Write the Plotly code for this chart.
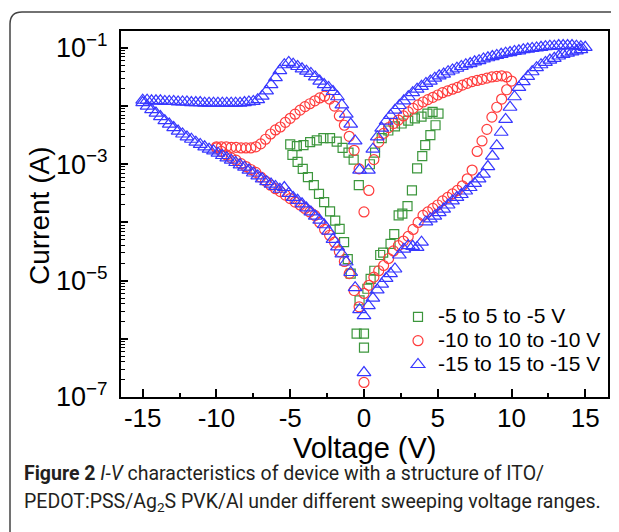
import plotly.graph_objects as go

# ---------------- data ----------------
# -15 to 15 to -15 V  (blue triangles), log10(I / A)
blue_v_fwd = [-15.0, -14.7, -14.4, -14.1, -13.8, -13.5, -13.2, -12.9, -12.6, -12.3,
              -12.0, -11.7, -11.4, -11.1, -10.8, -10.5, -10.2, -9.9, -9.6, -9.3,
              -9.0, -8.7, -8.4, -8.1, -7.8, -7.5, -7.2, -6.9, -6.6, -6.3,
              -6.0, -5.7, -5.4, -5.1, -4.8, -4.5, -4.2, -3.9, -3.6, -3.3,
              -3.0, -2.7, -2.4, -2.1, -1.8, -1.5, -1.2, -0.9, -0.6, -0.3,
              0.0,
              0.3, 0.6, 0.9, 1.2, 1.5, 1.8, 2.1, 2.4, 2.7, 3.0,
              3.3, 3.6, 3.9, 4.2, 4.5, 4.8, 5.1, 5.4, 5.7, 6.0,
              6.3, 6.6, 6.9, 7.2, 7.5, 7.8, 8.1, 8.4, 8.7, 9.0,
              9.3, 9.6, 9.9, 10.2, 10.5, 10.8, 11.1, 11.4, 11.7, 12.0,
              12.3, 12.6, 12.9, 13.2, 13.5, 13.8, 14.1, 14.4, 14.7, 15.0]
blue_logi_fwd = [-1.90, -1.90, -1.91, -1.91, -1.91, -1.92, -1.92, -1.92, -1.93, -1.93,
                 -1.93, -1.94, -1.94, -1.94, -1.95, -1.95, -1.95, -1.95, -1.95, -1.95,
                 -1.95, -1.95, -1.95, -1.94, -1.93, -1.92, -1.89, -1.83, -1.74, -1.63,
                 -1.51, -1.39, -1.29, -1.25, -1.28, -1.32, -1.36, -1.40, -1.44, -1.50,
                 -1.57, -1.63, -1.68, -1.75, -1.84, -1.98, -2.14, -2.31, -2.60, -3.10,
                 -6.58,
                 -3.10, -2.74, -2.53, -2.38, -2.26, -2.16, -2.07, -1.99, -1.91, -1.84,
                 -1.77, -1.71, -1.66, -1.61, -1.57, -1.52, -1.48, -1.45, -1.41, -1.38,
                 -1.35, -1.32, -1.29, -1.27, -1.24, -1.22, -1.19, -1.17, -1.15, -1.13,
                 -1.11, -1.09, -1.08, -1.06, -1.05, -1.03, -1.02, -1.01, -1.00, -0.99,
                 -0.98, -0.97, -0.97, -0.96, -0.96, -0.96, -0.96, -0.97, -0.98, -0.99]
blue_v_rev = [14.7, 14.4, 14.1, 13.8, 13.5, 13.2, 12.9, 12.6, 12.3, 12.0,
              11.7, 11.4, 11.1, 10.8, 10.5, 10.2, 9.9, 9.6, 9.3, 9.0,
              8.7, 8.4, 8.1, 7.8, 7.5, 7.2, 6.9, 6.6, 6.3, 6.0,
              5.7, 5.4, 5.1, 4.8, 4.5, 4.2, 3.9, 3.6, 3.3, 3.0,
              2.7, 2.4, 2.1, 1.8, 1.5, 1.2, 0.9, 0.6, 0.3, 0.0,
              -0.3, -0.6, -0.9, -1.2, -1.5, -1.8, -2.1, -2.4, -2.7, -3.0,
              -3.3, -3.6, -3.9, -4.2, -4.5, -4.8, -5.1, -5.4, -5.7, -6.0,
              -6.3, -6.6, -6.9, -7.2, -7.5, -7.8, -8.1, -8.4, -8.7, -9.0,
              -9.3, -9.6, -9.9, -10.2, -10.5, -10.8, -11.1, -11.4, -11.7, -12.0,
              -12.3, -12.6, -12.9, -13.2, -13.5, -13.8, -14.1, -14.4, -14.7, -15.0]
blue_logi_rev = [-1.03, -1.05, -1.07, -1.09, -1.11, -1.14, -1.18, -1.21, -1.25, -1.29,
                 -1.34, -1.41, -1.49, -1.58, -1.68, -1.84, -2.02, -2.23, -2.45, -2.68,
                 -2.86, -3.04, -3.17, -3.25, -3.33, -3.40, -3.46, -3.52, -3.57, -3.63,
                 -3.70, -3.77, -3.83, -3.89, -3.94, -3.99, -4.34, -4.43, -4.41, -4.40,
                 -4.46, -4.56, -4.80, -4.88, -4.96, -5.06, -5.16, -5.30, -5.43, -5.60,
                 -5.50, -5.12, -4.86, -4.68, -4.54, -4.42, -4.29, -4.15, -4.04, -3.96,
                 -3.89, -3.82, -3.75, -3.68, -3.62, -3.57, -3.50, -3.40, -3.43, -3.38,
                 -3.34, -3.30, -3.25, -3.20, -3.15, -3.10, -3.05, -3.01, -2.97, -2.93,
                 -2.89, -2.85, -2.81, -2.77, -2.74, -2.70, -2.66, -2.62, -2.57, -2.53,
                 -2.48, -2.43, -2.37, -2.31, -2.25, -2.18, -2.12, -2.06, -2.00, -1.94]

# -10 to 10 to -10 V  (red circles)
red_v_fwd = [-10.0, -9.67, -9.33, -9.0, -8.67, -8.33, -8.0, -7.67, -7.33, -7.0,
             -6.67, -6.33, -6.0, -5.67, -5.33, -5.0, -4.67, -4.33, -4.0, -3.67,
             -3.33, -3.0, -2.67, -2.33, -2.0, -1.67, -1.33, -1.0, -0.67, -0.33,
             0.0, 0.0,
             0.33, 0.67, 1.0, 1.33, 1.67, 2.0, 2.33, 2.67, 3.0, 3.33,
             3.67, 4.0, 4.33, 4.67, 5.0, 5.33, 5.67, 6.0, 6.33, 6.67,
             7.0, 7.33, 7.67, 8.0, 8.33, 8.67, 9.0, 9.33, 9.67, 10.0]
red_logi_fwd = [-2.70, -2.70, -2.70, -2.71, -2.71, -2.72, -2.72, -2.72, -2.70, -2.65,
                -2.57, -2.48, -2.41, -2.36, -2.28, -2.21, -2.14, -2.07, -2.01, -1.96,
                -1.91, -1.86, -1.83, -1.88, -2.00, -2.17, -2.33, -2.52, -2.76, -3.08,
                -3.82, -6.75,
                -3.45, -2.92, -2.62, -2.47, -2.37, -2.30, -2.24, -2.17, -2.10, -2.04,
                -1.98, -1.93, -1.89, -1.85, -1.81, -1.77, -1.74, -1.71, -1.68, -1.64,
                -1.61, -1.58, -1.56, -1.54, -1.52, -1.50, -1.49, -1.48, -1.50, -1.57]
red_v_rev = [9.67, 9.33, 9.0, 8.67, 8.33, 8.0, 7.67, 7.33, 7.0, 6.67,
             6.33, 6.0, 5.67, 5.33, 5.0, 4.67, 4.33, 4.0, 3.67, 3.33,
             3.0, 2.67, 2.33, 2.0, 1.67, 1.33, 1.0, 0.67, 0.33, 0.0,
             -0.33, -0.67, -1.0, -1.33, -1.67, -2.0, -2.33, -2.67, -3.0, -3.33,
             -3.67, -4.0, -4.33, -4.67, -5.0, -5.33, -5.67, -6.0, -6.33, -6.67,
             -7.0, -7.33, -7.67, -8.0, -8.33, -8.67, -9.0, -9.33, -9.67, -10.0]
red_logi_rev = [-1.72, -1.88, -2.02, -2.19, -2.40, -2.60, -2.78, -3.10, -3.25, -3.37,
                -3.45, -3.51, -3.57, -3.63, -3.70, -3.76, -3.82, -3.88, -4.00, -4.12,
                -4.24, -4.32, -4.40, -4.49, -4.62, -4.74, -4.83, -4.94, -5.08, -5.22,
                -5.45, -5.17, -4.88, -4.67, -4.50, -4.34, -4.22, -4.12, -4.00, -3.88,
                -3.82, -3.76, -3.70, -3.65, -3.59, -3.53, -3.47, -3.42, -3.36, -3.29,
                -3.22, -3.14, -3.09, -3.04, -2.99, -2.93, -2.89, -2.84, -2.78, -2.72]

# -5 to 5 to -5 V  (green squares)
green_v = [-5.0, -4.55, -4.1, -3.65, -3.2, -2.75, -2.3, -1.85, -1.45, -1.05, -0.7, -0.35,
           0.4, 0.75, 1.2, 1.65, 2.1, 2.55, 3.0, 3.45, 3.9, 4.3, 4.65, 5.05,
           4.85, 4.5, 4.15, 3.95, 3.6, 3.25, 2.95, 2.6, 2.35, 2.05, 1.8, 1.3, 1.1,
           0.7, 0.45, 0.23, -0.3,
           -4.85, -4.5, -4.15, -3.8, -3.4, -3.05, -2.7, -2.3, -1.95, -1.65, -1.35,
           -1.1, -0.9, -0.5, 0.0, 0.0]
green_logi = [-2.66, -2.69, -2.67, -2.62, -2.59, -2.55, -2.55, -2.61, -2.72, -2.80, -2.92, -3.36,
              -3.00, -2.80, -2.55, -2.42, -2.35, -2.30, -2.25, -2.21, -2.18, -2.13, -2.10, -2.13,
              -2.33, -2.50, -2.67, -2.86, -3.07, -3.45, -3.72, -3.85, -3.88, -4.20, -4.37, -4.52, -4.56,
              -4.83, -4.97, -5.14, -5.34,
              -2.84, -2.96, -3.08, -3.22, -3.36, -3.51, -3.65, -3.81, -3.97, -4.11, -4.34,
              -4.63, -4.88, -5.91, -5.91, -6.15]

series_names = ["-5 to 5 to -5 V", "-10 to 10 to -10 V", "-15 to 15 to -15 V"]
x_title = "Voltage (V)"
y_title = "Current (A)"
x_tick_vals = [-15, -10, -5, 0, 5, 10, 15]
x_tick_text = ["-15", "-10", "-5", "0", "5", "10", "15"]
y_tick_vals = [1e-7, 1e-6, 1e-5, 1e-4, 1e-3, 1e-2, 1e-1]
y_tick_text = ["10<sup>\u22127</sup>", "", "10<sup>\u22125</sup>", "",
               "10<sup>\u22123</sup>", "", "10<sup>\u22121</sup>"]

# ---------------- figure ----------------
GREEN = "rgb(60,150,60)"
RED = "rgb(255,60,60)"
BLUE = "rgb(55,55,255)"
AXFONT = "Liberation Sans, Arial, sans-serif"

fig = go.Figure()
fig.add_trace(go.Scatter(
    x=green_v, y=[10 ** v for v in green_logi], mode="markers",
    name=f"<span style='font-size:21px'>{series_names[0]}</span>",
    marker=dict(symbol="square-open", size=9, color=GREEN, line=dict(width=1.2, color=GREEN))))
fig.add_trace(go.Scatter(
    x=red_v_fwd + red_v_rev, y=[10 ** v for v in red_logi_fwd + red_logi_rev],
    mode="markers", name=f"<span style='font-size:21px'>{series_names[1]}</span>",
    marker=dict(symbol="circle-open", size=10, color=RED, line=dict(width=1.2, color=RED))))
fig.add_trace(go.Scatter(
    x=blue_v_fwd + blue_v_rev, y=[10 ** v for v in blue_logi_fwd + blue_logi_rev],
    mode="markers", name=f"<span style='font-size:21px'>{series_names[2]}</span>",
    marker=dict(symbol="triangle-up-open", size=12, color=BLUE, line=dict(width=1.2, color=BLUE))))

minor_y = [m * 10 ** e for e in range(-7, 0) for m in range(2, 10) if m * 10 ** e < 0.2]

fig.update_xaxes(
    range=[-16.47, 16.54], tickvals=x_tick_vals, ticktext=x_tick_text,
    ticks="inside", ticklen=8, tickwidth=2, tickcolor="black",
    minor=dict(ticks="inside", ticklen=4, tickwidth=1.5, tickcolor="black", dtick=2.5, tick0=-12.5),
    showline=True, linewidth=2, linecolor="black", mirror=True, showgrid=False, zeroline=False,
    automargin=False, ticklabelstandoff=-3,
    tickfont=dict(family=AXFONT, size=26, color="black"))
fig.update_yaxes(
    type="log", range=[-7, -0.71], tickvals=y_tick_vals, ticktext=y_tick_text,
    ticks="inside", ticklen=7, tickwidth=2, tickcolor="black",
    minor=dict(ticks="inside", ticklen=4, tickwidth=1.2, tickcolor="black", tickvals=minor_y),
    showline=True, linewidth=2, linecolor="black", mirror=True, showgrid=False, zeroline=False,
    automargin=False, ticklabelstandoff=6,
    tickfont=dict(family=AXFONT, size=27, color="black"))

W, H = 487.0, 366.0

# axis titles placed as annotations for exact positioning
fig.add_annotation(xref="paper", yref="paper", x=(364 - 121) / W, y=(397 - 448) / H,
                   xanchor="center", yanchor="middle", showarrow=False, text=x_title,
                   font=dict(family=AXFONT, size=29, color="black"))
fig.add_annotation(xref="paper", yref="paper", x=(39 - 121) / W, y=(397 - 216) / H,
                   xanchor="center", yanchor="middle", showarrow=False, text=y_title,
                   textangle=-90, font=dict(family=AXFONT, size=28, color="black"))

# rounded frame around the figure (pixel geometry converted to paper units)
x0 = (10 - 121) / W
yt = (397 - 12) / H
xr = (660 - 121) / W
yb = (397 - 580) / H
rx, ry = 12 / W, 12 / H
fig.add_shape(type="path", xref="paper", yref="paper",
              path=f"M {x0},{yb} L {x0},{yt - ry} Q {x0},{yt} {x0 + rx},{yt} L {xr},{yt}",
              line=dict(color="#444444", width=1.5), layer="below")

cap_font = dict(family="Roboto, Liberation Sans, sans-serif", size=19.5, color="#231f20")
fig.add_annotation(xref="paper", yref="paper", x=(22 - 121) / W, y=(397 - 474) / H,
                   xanchor="left", yanchor="middle", showarrow=False, align="left",
                   text="<b>Figure 2</b> <i>I-V</i> characteristics of device with a structure of ITO/",
                   font=cap_font)
fig.add_annotation(xref="paper", yref="paper", x=(22 - 121) / W, y=(397 - 502) / H,
                   xanchor="left", yanchor="middle", showarrow=False, align="left",
                   text="PEDOT:PSS/Ag<sub>2</sub>S PVK/Al under different sweeping voltage ranges.",
                   font=cap_font)

# page body has an 8 px margin, so the figure is drawn 8 px smaller and offset
fig.update_layout(
    width=611, height=524,
    margin=dict(l=113, r=11, t=23, b=135, autoexpand=False),
    paper_bgcolor="white", plot_bgcolor="white",
    showlegend=True,
    legend=dict(x=(398 - 121) / W, y=(397 - 300) / H, xanchor="left", yanchor="top",
                bgcolor="rgba(0,0,0,0)", borderwidth=0,
                font=dict(family=AXFONT, size=16, color="black"),
                tracegroupgap=0, itemsizing="trace"),
)

fig.write_html("out.html")
